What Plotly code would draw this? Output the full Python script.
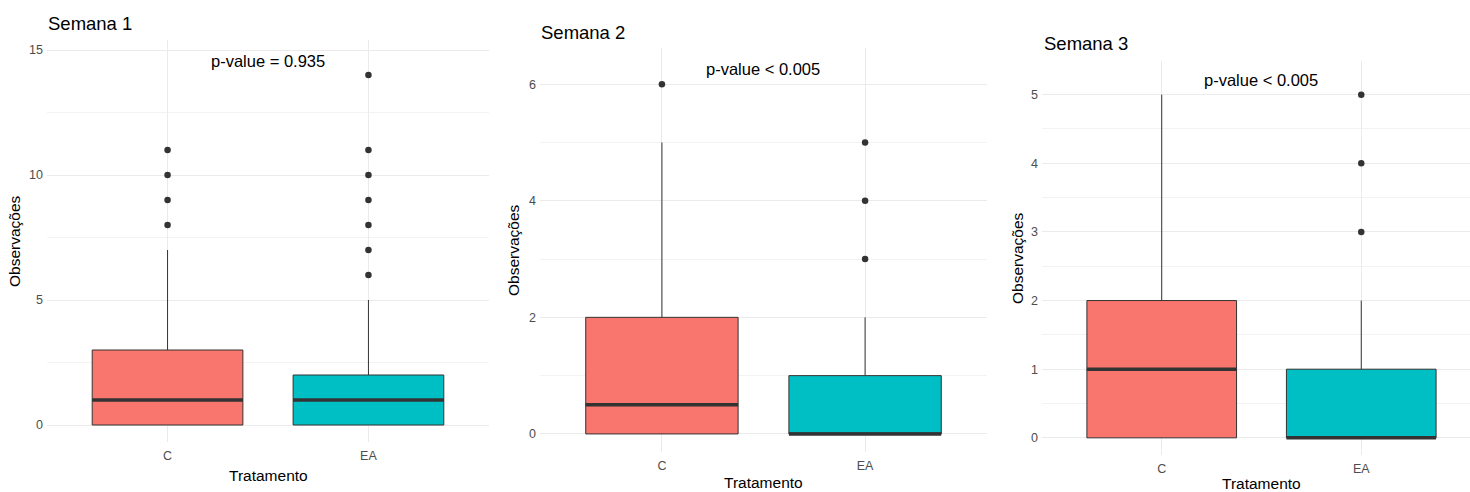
import plotly.graph_objects as go

# Weekly observation counts by treatment: box summaries and outliers
categories = ["C", "EA"]
week_titles = ["Semana 1", "Semana 2", "Semana 3"]
p_value_labels = ["p-value = 0.935", "p-value < 0.005", "p-value < 0.005"]

s1_q1 = [0, 0]
s1_median = [1, 1]
s1_q3 = [3, 2]
s1_lower = [0, 0]
s1_upper = [7, 5]
s1_outliers_c = [8, 9, 10, 11]
s1_outliers_ea = [6, 7, 8, 9, 10, 11, 14]

s2_q1 = [0, 0]
s2_median = [0.5, 0]
s2_q3 = [2, 1]
s2_lower = [0, 0]
s2_upper = [5, 2]
s2_outliers_c = [6]
s2_outliers_ea = [3, 4, 5]

s3_q1 = [0, 0]
s3_median = [1, 0]
s3_q3 = [2, 1]
s3_lower = [0, 0]
s3_upper = [5, 2]
s3_outliers_c = []
s3_outliers_ea = [3, 4, 5]

W, H = 1470, 492
FILLS = ["#F8766D", "#00BFC4"]
DARK = "#333333"
FONT = "Liberation Sans, Arial, sans-serif"
BOX_W = 0.75


def fx(p):
    return p / W


def fy(p):
    return 1 - p / H


weeks = [
    dict(q1=s1_q1, med=s1_median, q3=s1_q3, lo=s1_lower, hi=s1_upper,
         outs=[s1_outliers_c, s1_outliers_ea]),
    dict(q1=s2_q1, med=s2_median, q3=s2_q3, lo=s2_lower, hi=s2_upper,
         outs=[s2_outliers_c, s2_outliers_ea]),
    dict(q1=s3_q1, med=s3_median, q3=s3_q3, lo=s3_lower, hi=s3_upper,
         outs=[s3_outliers_c, s3_outliers_ea]),
]

# panel geometry (pixels) and axis setup
frames = [
    dict(left=47, right=489, top=40, bottom=442, xmax=2.6, yr=[-0.68, 15.4],
         dtick=5, minor=2.5, title_xy=(46, 23), p_xy=(268, 61),
         ytitle_xy=(15, 241), xtitle_y=475),
    dict(left=540, right=987, top=48, bottom=452, xmax=2.6, yr=[-0.31, 6.62],
         dtick=2, minor=1, title_xy=(539, 32), p_xy=(763, 69),
         ytitle_xy=(513, 250), xtitle_y=482),
    dict(left=1042, right=1470, top=61, bottom=455, xmax=2.545, yr=[-0.25, 5.49],
         dtick=1, minor=0.5, title_xy=(1042, 43), p_xy=(1261, 80),
         ytitle_xy=(1017, 258), xtitle_y=483),
]

fig = go.Figure()
annotations = []
positions = [1, 2]

for i, (wk, fr) in enumerate(zip(weeks, frames)):
    sfx = "" if i == 0 else str(i + 1)
    xa, ya = "x" + sfx, "y" + sfx
    for j, cat in enumerate(categories):
        pos = positions[j]
        fig.add_trace(go.Box(
            x=[pos], q1=[wk["q1"][j]], median=[wk["med"][j]], q3=[wk["q3"][j]],
            lowerfence=[wk["lo"][j]], upperfence=[wk["hi"][j]],
            width=BOX_W, whiskerwidth=0, boxpoints=False,
            fillcolor=FILLS[j], line=dict(color=DARK, width=1),
            xaxis=xa, yaxis=ya, showlegend=False, name=cat,
        ))
        fig.add_trace(go.Scatter(
            x=[pos - BOX_W / 2, pos + BOX_W / 2], y=[wk["med"][j]] * 2,
            mode="lines", line=dict(color=DARK, width=3.5),
            xaxis=xa, yaxis=ya, showlegend=False, hoverinfo="skip",
        ))
        outs = wk["outs"][j]
        if outs:
            fig.add_trace(go.Scatter(
                x=[pos] * len(outs), y=outs, mode="markers",
                marker=dict(color=DARK, size=6.5),
                xaxis=xa, yaxis=ya, showlegend=False,
            ))

    fig.update_layout(**{
        "xaxis" + sfx: dict(
            domain=[fx(fr["left"]), fx(fr["right"])], anchor=ya,
            range=[0.4, fr["xmax"]], tickvals=positions, ticktext=categories,
            showgrid=True, gridcolor="#EBEBEB", gridwidth=1, zeroline=False,
            showline=False, ticks="", ticklabelstandoff=4,
            tickfont=dict(family=FONT, size=12.5, color="#4D4D4D"),
        ),
        "yaxis" + sfx: dict(
            domain=[fy(fr["bottom"]), fy(fr["top"])], anchor=xa,
            range=fr["yr"], tickmode="linear", tick0=0, dtick=fr["dtick"],
            showgrid=True, gridcolor="#EBEBEB", gridwidth=1, zeroline=False,
            showline=False, ticks="", ticklabelstandoff=3,
            minor=dict(tick0=0, dtick=fr["minor"], showgrid=True,
                       gridcolor="#F3F3F3", gridwidth=1),
            tickfont=dict(family=FONT, size=12.5, color="#4D4D4D"),
        ),
    })

    annotations.append(dict(
        text=week_titles[i], xref="paper", yref="paper",
        x=fx(fr["title_xy"][0]), y=fy(fr["title_xy"][1]),
        xanchor="left", yanchor="middle", showarrow=False,
        font=dict(family=FONT, size=18.5, color="black"),
    ))
    annotations.append(dict(
        text=p_value_labels[i], xref="paper", yref="paper",
        x=fx(fr["p_xy"][0]), y=fy(fr["p_xy"][1]),
        xanchor="center", yanchor="middle", showarrow=False,
        font=dict(family=FONT, size=16.5, color="black"),
    ))
    annotations.append(dict(
        text="Observações", xref="paper", yref="paper",
        x=fx(fr["ytitle_xy"][0]), y=fy(fr["ytitle_xy"][1]),
        xanchor="center", yanchor="middle", textangle=-90, showarrow=False,
        font=dict(family=FONT, size=15.5, color="black"),
    ))
    annotations.append(dict(
        text="Tratamento", xref="paper", yref="paper",
        x=fx((fr["left"] + fr["left"] + 2.2 * (fr["right"] - fr["left"]) / (fr["xmax"] - 0.4)) / 2),
        y=fy(fr["xtitle_y"]),
        xanchor="center", yanchor="middle", showarrow=False,
        font=dict(family=FONT, size=15.5, color="black"),
    ))

fig.update_layout(
    width=W, height=H, margin=dict(l=0, r=0, t=0, b=0),
    paper_bgcolor="white", plot_bgcolor="white",
    annotations=annotations, showlegend=False,
)

fig.write_html("out.html")
